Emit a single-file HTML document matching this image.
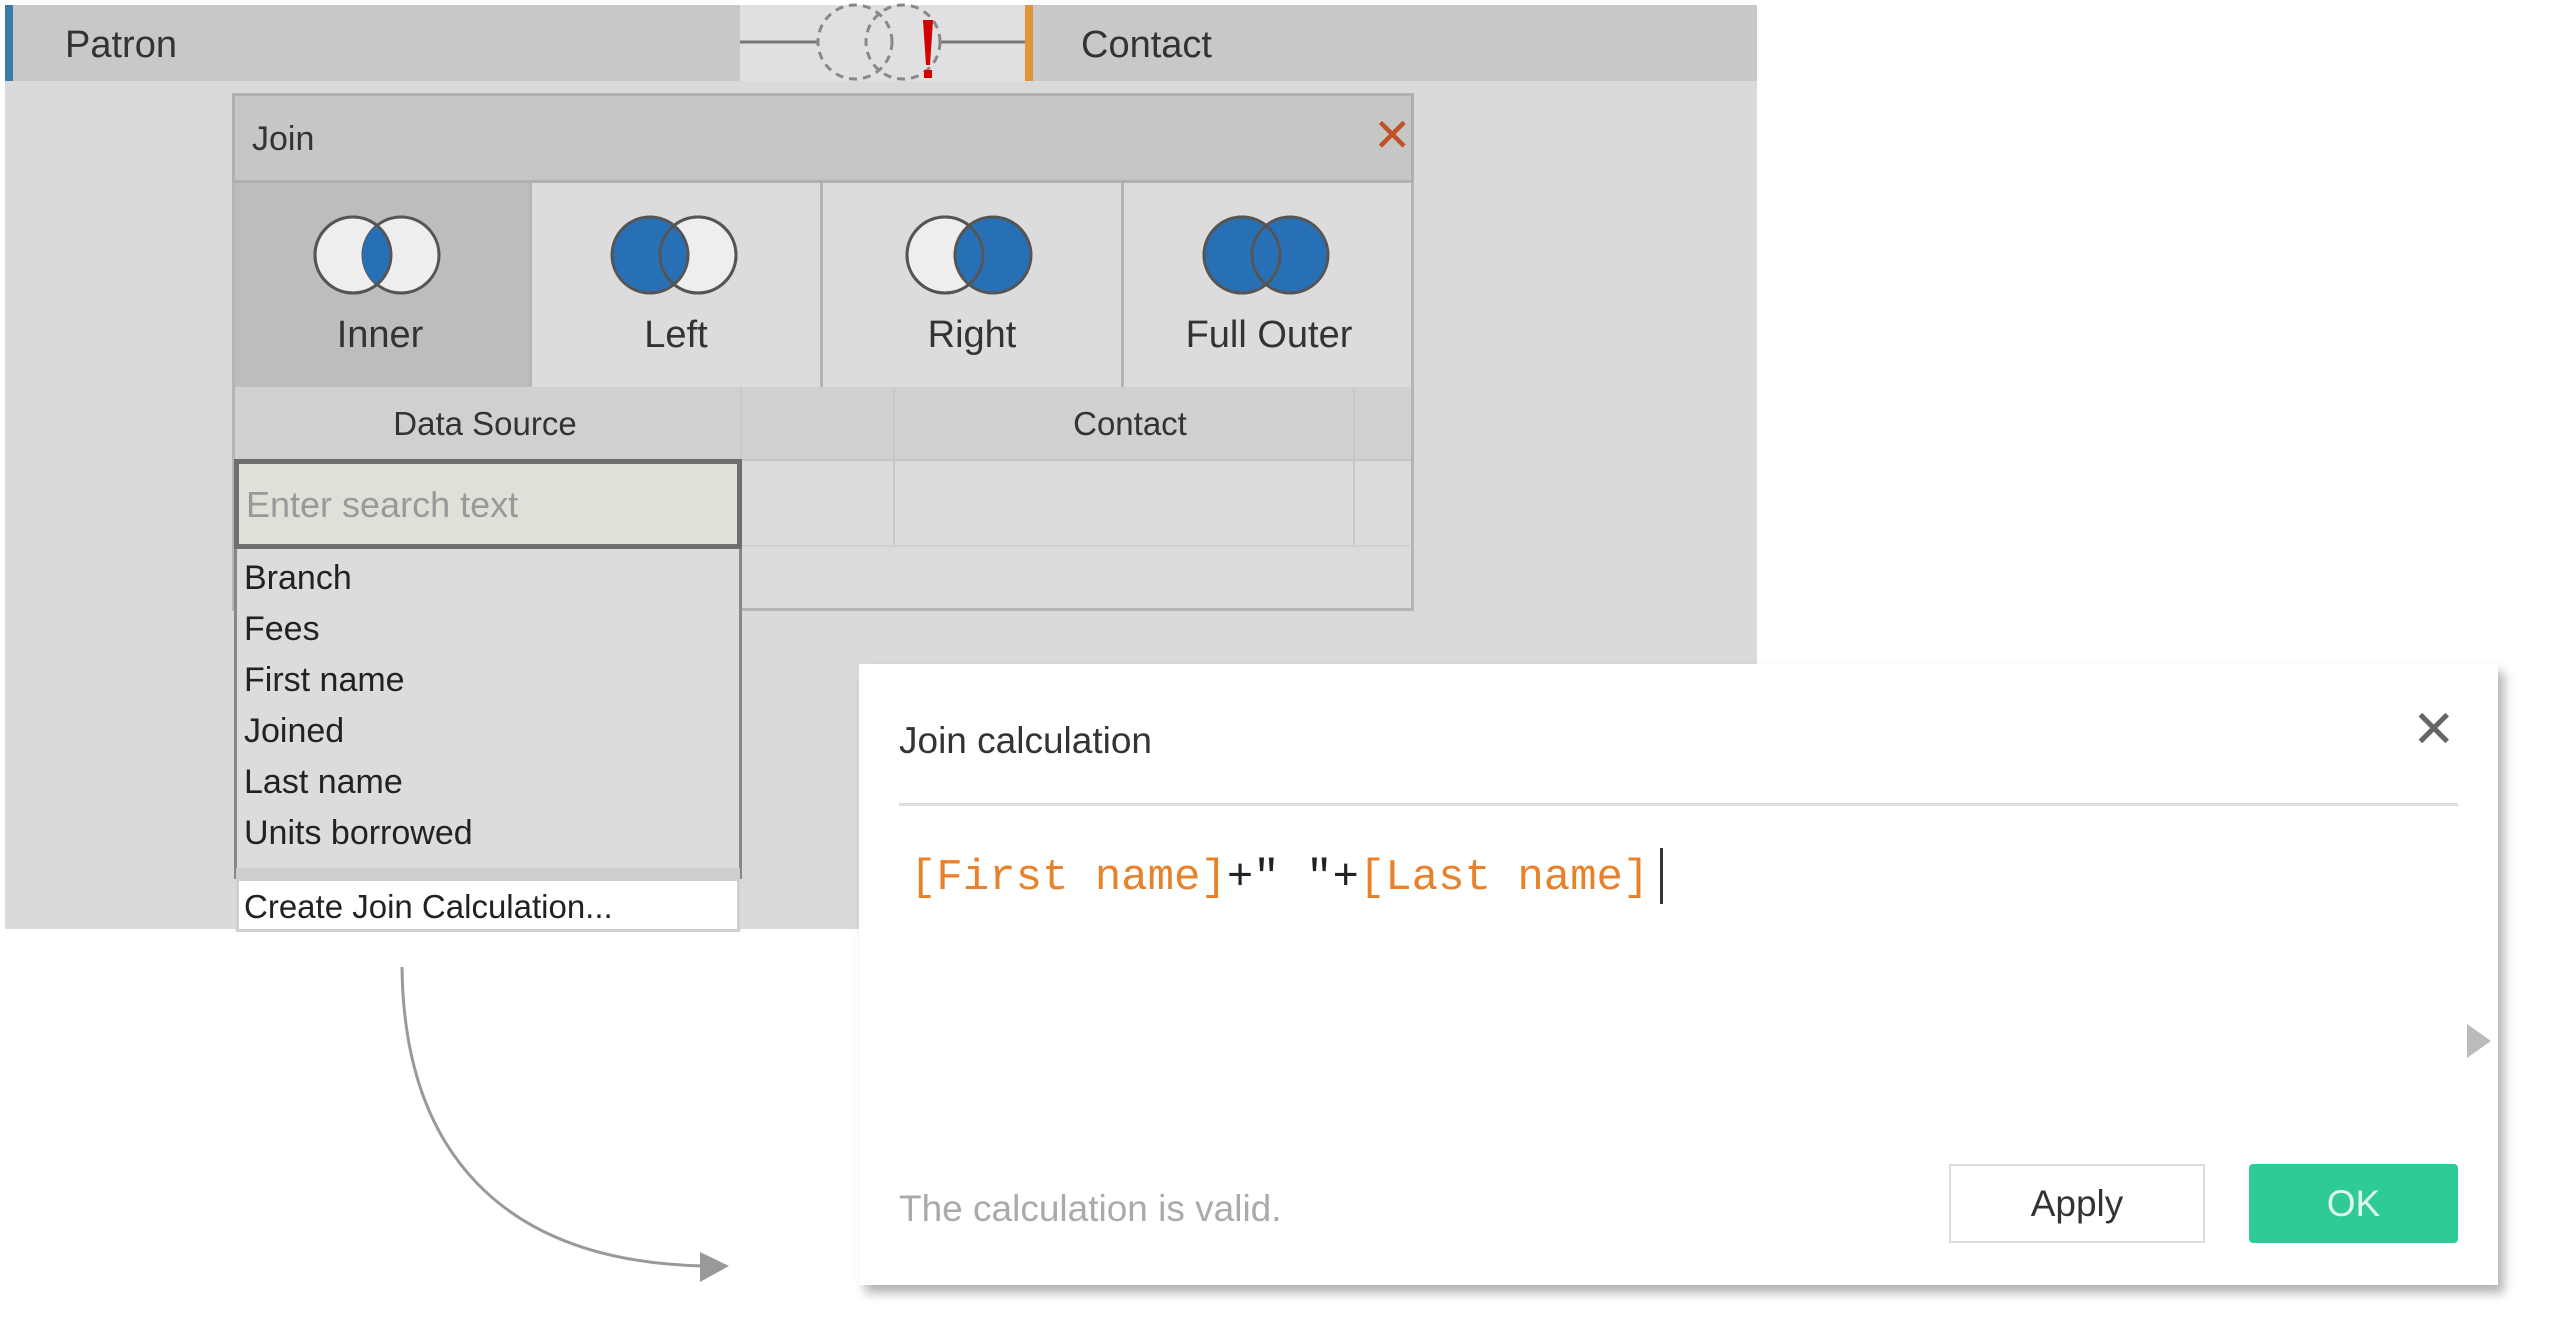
<!DOCTYPE html>
<html><head><meta charset="utf-8"><style>
body{margin:0;width:2560px;height:1328px;background:#fff;position:relative;overflow:hidden;font-family:"Liberation Sans",sans-serif;color:#333}
.a{position:absolute}
</style></head><body>
<div class="a" style="left:5px;top:5px;width:1752px;height:924px;background:#dadada"></div>
<!-- top bar -->
<div class="a" style="left:5px;top:5px;width:735px;height:76px;background:#c8c8c8;border-left:8px solid #3a7ca8;box-sizing:border-box"></div>
<div class="a" style="left:65px;top:24px;font-size:38px;color:#333">Patron</div>
<div class="a" style="left:740px;top:5px;width:285px;height:76px;background:#e0e0e0"></div>
<div class="a" style="left:1025px;top:5px;width:8px;height:76px;background:#e0953a"></div>
<div class="a" style="left:1033px;top:5px;width:724px;height:76px;background:#c8c8c8"></div>
<div class="a" style="left:1081px;top:24px;font-size:38px;color:#333">Contact</div>
<svg class="a" style="left:740px;top:0" width="290" height="90">
<line x1="0" y1="42" x2="78" y2="42" stroke="#777" stroke-width="3"/>
<line x1="200" y1="42" x2="285" y2="42" stroke="#777" stroke-width="3"/>
<circle cx="115" cy="42" r="37" fill="none" stroke="#888" stroke-width="3" stroke-dasharray="8 6"/>
<circle cx="163" cy="42" r="37" fill="none" stroke="#888" stroke-width="3" stroke-dasharray="8 6"/>
<path d="M183 20 L193 20 L190 65 L186 65 Z" fill="#d40000"/><rect x="184" y="70" width="8" height="8" fill="#d40000"/>
</svg>
<!-- Join dialog -->
<div class="a" style="left:232px;top:93px;width:1182px;height:518px;background:#dcdcdc;border:3px solid #b5b5b5;box-sizing:border-box"></div>
<div class="a" style="left:232px;top:93px;width:1182px;height:90px;background:#c6c6c6;border:3px solid #b0b0b0;box-sizing:border-box"></div>
<div class="a" style="left:252px;top:120px;font-size:34px;color:#333">Join</div>
<div class="a" style="left:1373px;top:108px;font-size:46px;color:#c0522a">✕</div>
<div class="a" style="left:235px;top:183px;width:294px;height:204px;background:#bdbdbd"></div>
<div class="a" style="left:529px;top:183px;width:3px;height:204px;background:#b5b5b5"></div>
<div class="a" style="left:820px;top:183px;width:3px;height:204px;background:#b5b5b5"></div>
<div class="a" style="left:1121px;top:183px;width:3px;height:204px;background:#b5b5b5"></div>
<svg class="a" style="left:0;top:0" width="1420" height="400">
<g stroke="#555" stroke-width="3">
<circle cx="353" cy="255" r="38" fill="#eee"/><circle cx="401" cy="255" r="38" fill="#eee"/>
<path d="M377 225 A38 38 0 0 1 377 285 A38 38 0 0 1 377 225Z" fill="#2770b5" stroke="none"/>
<circle cx="353" cy="255" r="38" fill="none"/>
<circle cx="698" cy="255" r="38" fill="#eee"/><circle cx="650" cy="255" r="38" fill="#2770b5"/><circle cx="698" cy="255" r="38" fill="none"/>
<circle cx="945" cy="255" r="38" fill="#eee"/><circle cx="993" cy="255" r="38" fill="#2770b5"/><circle cx="945" cy="255" r="38" fill="none"/>
<circle cx="1242" cy="255" r="38" fill="#2770b5"/><circle cx="1290" cy="255" r="38" fill="#2770b5"/><circle cx="1242" cy="255" r="38" fill="none"/>
</g></svg>
<div class="a" style="left:235px;top:314px;width:290px;text-align:center;font-size:38px">Inner</div>
<div class="a" style="left:532px;top:314px;width:288px;text-align:center;font-size:38px">Left</div>
<div class="a" style="left:823px;top:314px;width:298px;text-align:center;font-size:38px">Right</div>
<div class="a" style="left:1124px;top:314px;width:290px;text-align:center;font-size:38px">Full Outer</div>
<div class="a" style="left:235px;top:387px;width:1176px;height:72px;background:#d0d0d0;border-bottom:2px solid #c4c4c4"></div>
<div class="a" style="left:235px;top:405px;width:500px;text-align:center;font-size:33px">Data Source</div>
<div class="a" style="left:890px;top:405px;width:480px;text-align:center;font-size:33px">Contact</div>
<div class="a" style="left:740px;top:387px;width:2px;height:160px;background:#c8c8c8"></div>
<div class="a" style="left:893px;top:387px;width:2px;height:160px;background:#c8c8c8"></div>
<div class="a" style="left:1353px;top:387px;width:2px;height:160px;background:#c8c8c8"></div>
<div class="a" style="left:742px;top:545px;width:668px;height:2px;background:#cfcfcf"></div>
<!-- search dropdown -->
<div class="a" style="left:234px;top:459px;width:508px;height:90px;background:#dfe1d8;border:5px solid #6e6e6e;box-sizing:border-box"></div>
<div class="a" style="left:246px;top:484px;font-size:36px;color:#999">Enter search text</div>
<div class="a" style="left:234px;top:549px;width:508px;height:330px;background:#dcdcdc;border-left:3px solid #888;border-right:3px solid #888;box-sizing:border-box"></div>
<div class="a" style="left:244px;top:553px;font-size:34px;line-height:51px;color:#222">Branch<br>Fees<br>First name<br>Joined<br>Last name<br>Units borrowed</div>
<div class="a" style="left:236px;top:868px;width:504px;height:10px;background:#cfcfcf"></div>
<div class="a" style="left:236px;top:878px;width:504px;height:54px;background:#fff;border:3px solid #cfcfcf;box-sizing:border-box"></div>
<div class="a" style="left:244px;top:888px;font-size:33px;color:#222">Create Join Calculation...</div>
<!-- arrow -->
<svg class="a" style="left:0;top:0" width="900" height="1328">
<path d="M402 967 C404 1150 500 1262 705 1266" fill="none" stroke="#999" stroke-width="3"/>
<path d="M700 1252 L729 1266 L700 1282 Z" fill="#999"/>
</svg>
<!-- Join calculation dialog -->
<div class="a" style="left:859px;top:664px;width:1639px;height:621px;background:#fff;box-shadow:6px 8px 10px rgba(0,0,0,.3)"></div>
<div class="a" style="left:899px;top:720px;font-size:37px;color:#333">Join calculation</div>
<div class="a" style="left:2412px;top:700px;font-size:52px;color:#666">✕</div>
<div class="a" style="left:899px;top:803px;width:1559px;height:3px;background:#ddd"></div>
<div class="a" style="left:910px;top:853px;font-family:'Liberation Mono',monospace;font-size:44px;color:#222;white-space:pre"><span style="color:#e8822a">[First name]</span>+" "+<span style="color:#e8822a">[Last name]</span></div>
<div class="a" style="left:1660px;top:848px;width:3px;height:56px;background:#333"></div>
<div class="a" style="left:899px;top:1188px;font-size:37px;color:#aaa">The calculation is valid.</div>
<div class="a" style="left:1949px;top:1164px;width:256px;height:79px;border:2px solid #ddd;box-sizing:border-box;text-align:center;line-height:75px;font-size:37px;color:#333">Apply</div>
<div class="a" style="left:2249px;top:1164px;width:209px;height:79px;background:#2ecc94;border-radius:4px;text-align:center;line-height:79px;font-size:37px;color:#dff7ee">OK</div>
<svg class="a" style="left:2465px;top:1022px" width="28" height="38"><path d="M2 2 L26 19 L2 36Z" fill="#bbb"/></svg>
</body></html>
